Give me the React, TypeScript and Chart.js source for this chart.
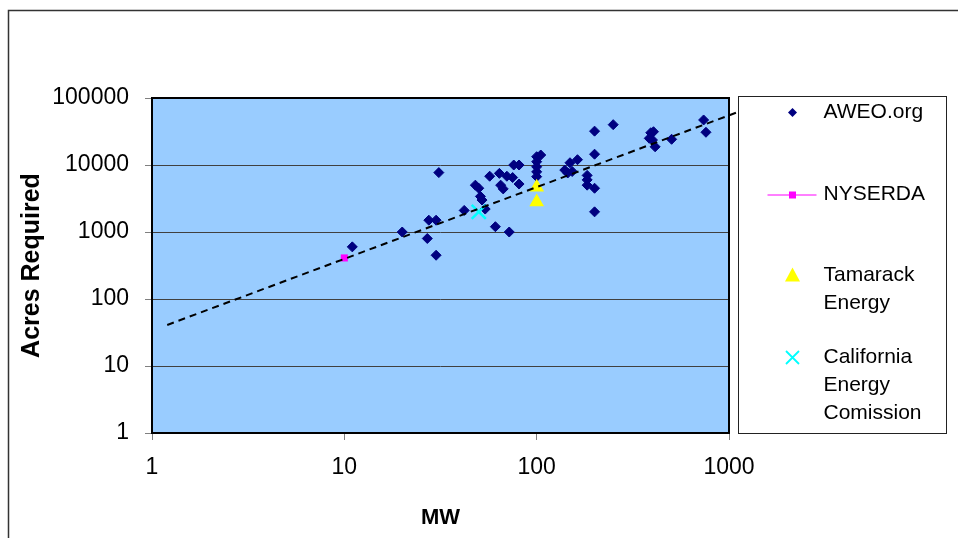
import React, { useEffect, useRef } from 'react';
import { Chart, registerables } from 'chart.js';

Chart.register(...registerables);

// ---- Data ----
const AWEO_MW = [
  11, 20, 27, 27.5, 30, 30, 31, 42, 48, 50, 51, 52, 54, 57, 64, 65, 67, 61, 70, 75, 76, 81, 81, 72,
  100, 100, 100, 100, 100, 105, 200, 250, 200, 200, 200, 183, 183, 183, 140, 149, 153, 163, 145,
  392, 405, 385, 413, 400, 503, 738, 759,
];
const AWEO_ACRES = [
  600, 1000, 800, 1500, 1500, 450, 7700, 2100, 5000, 4500, 3400, 3000, 2200, 6800, 7500, 5000, 4400, 1200, 6800, 6500, 10000, 10000, 5200, 1000,
  13300, 11200, 9400, 7900, 6700, 14100, 32000, 40000, 14500, 4500, 2000, 7000, 6000, 5000, 8400, 10800, 8000, 12000, 7600,
  30300, 31400, 25000, 18700, 23600, 24200, 47000, 30800,
];
const NYSERDA_MW = [10];
const NYSERDA_ACRES = [410];
const TAMARACK_MW = [100, 100];
const TAMARACK_ACRES = [4650, 2800];
const CEC_MW = [50];
const CEC_ACRES = [2000];
const TREND_MW = [1.2, 1300];
const TREND_ACRES = [41, 73000];

const X_TICKS = [1, 10, 100, 1000];
const Y_TICKS = [1, 10, 100, 1000, 10000, 100000];

const LEGEND_ITEMS = [
  { key: 'aweo', lines: ['AWEO.org'] },
  { key: 'nyserda', lines: ['NYSERDA'] },
  { key: 'tamarack', lines: ['Tamarack', 'Energy'] },
  { key: 'cec', lines: ['California', 'Energy', 'Comission'] },
];

const FONT = '"Liberation Sans", Arial, sans-serif';
const NAVY = '#000080';
const MAGENTA = '#FF00FF';
const YELLOW = '#FFFF00';
const CYAN = '#00FFFF';

const pts = (xs: number[], ys: number[]) => xs.map((x, i) => ({ x, y: ys[i] }));

const framePlugin = {
  id: 'frame',
  beforeDraw(chart: any) {
    const { ctx, chartArea: a, width, height } = chart;
    ctx.save();
    ctx.fillStyle = '#ffffff';
    ctx.fillRect(0, 0, width, height);
    ctx.strokeStyle = '#333333';
    ctx.lineWidth = 1.5;
    ctx.strokeRect(8.5, 10.5, width + 50, height + 50);
    ctx.fillStyle = '#99CCFF';
    ctx.fillRect(a.left, a.top, a.right - a.left, a.bottom - a.top);
    ctx.restore();
  },
  afterDraw(chart: any) {
    const { ctx, chartArea: a } = chart;
    ctx.save();
    // plot border
    ctx.strokeStyle = '#000000';
    ctx.lineWidth = 2;
    ctx.strokeRect(a.left, a.top, a.right - a.left, a.bottom - a.top);

    // legend box
    const L = a.right + 9.5;
    const T = a.top - 1.5;
    const W = 208;
    const H = a.bottom - T + 0.5;
    ctx.fillStyle = '#ffffff';
    ctx.fillRect(L, T, W, H);
    ctx.strokeStyle = '#222222';
    ctx.lineWidth = 1;
    ctx.strokeRect(L, T, W, H);

    const offsets = [16, 98, 179, 261];
    const mx = L + 54;
    const tx = L + 85;
    ctx.font = `21px ${FONT}`;
    ctx.textBaseline = 'middle';
    ctx.textAlign = 'left';
    LEGEND_ITEMS.forEach((item, i) => {
      const y = T + offsets[i];
      ctx.save();
      if (item.key === 'aweo') {
        const r = 4.5;
        ctx.fillStyle = NAVY;
        ctx.beginPath();
        ctx.moveTo(mx - r, y);
        ctx.lineTo(mx, y - r);
        ctx.lineTo(mx + r, y);
        ctx.lineTo(mx, y + r);
        ctx.closePath();
        ctx.fill();
      } else if (item.key === 'nyserda') {
        ctx.strokeStyle = MAGENTA;
        ctx.lineWidth = 1;
        ctx.beginPath();
        ctx.moveTo(mx - 25, y + 0.5);
        ctx.lineTo(mx + 24, y + 0.5);
        ctx.stroke();
        ctx.fillStyle = MAGENTA;
        ctx.fillRect(mx - 3.5, y - 3, 7, 7);
      } else if (item.key === 'tamarack') {
        ctx.fillStyle = YELLOW;
        ctx.beginPath();
        ctx.moveTo(mx, y - 8);
        ctx.lineTo(mx + 7.5, y + 6);
        ctx.lineTo(mx - 7.5, y + 6);
        ctx.closePath();
        ctx.fill();
      } else {
        ctx.strokeStyle = CYAN;
        ctx.lineWidth = 1.8;
        ctx.beginPath();
        ctx.moveTo(mx - 6.5, y - 6.5);
        ctx.lineTo(mx + 6.5, y + 6.5);
        ctx.moveTo(mx + 6.5, y - 6.5);
        ctx.lineTo(mx - 6.5, y + 6.5);
        ctx.stroke();
      }
      ctx.restore();
      ctx.fillStyle = '#000000';
      item.lines.forEach((line, j) => {
        ctx.fillText(line, tx, y + j * 28);
      });
    });
    ctx.restore();
  },
};

export default function App() {
  const canvasRef = useRef<HTMLCanvasElement | null>(null);

  useEffect(() => {
    document.body.style.margin = '0';
    const canvas = canvasRef.current;
    if (!canvas) return;
    const chart = new Chart(canvas, {
      type: 'scatter',
      data: {
        datasets: [
          {
            label: 'Trend',
            data: pts(TREND_MW, TREND_ACRES),
            showLine: true,
            borderColor: '#000000',
            borderWidth: 2,
            borderDash: [7, 5],
            pointRadius: 0,
            clip: false as any,
            order: 0,
          } as any,
          {
            label: 'AWEO.org',
            data: pts(AWEO_MW, AWEO_ACRES),
            pointStyle: 'rectRot',
            pointRadius: 5,
            backgroundColor: NAVY,
            borderColor: NAVY,
            borderWidth: 1,
            order: 2,
          },
          {
            label: 'NYSERDA',
            data: pts(NYSERDA_MW, NYSERDA_ACRES),
            pointStyle: 'rect',
            pointRadius: 5,
            backgroundColor: MAGENTA,
            borderColor: MAGENTA,
            borderWidth: 0,
            order: 1,
          },
          {
            label: 'Tamarack Energy',
            data: pts(TAMARACK_MW, TAMARACK_ACRES),
            pointStyle: 'triangle',
            pointRadius: 8.5,
            backgroundColor: YELLOW,
            borderColor: YELLOW,
            borderWidth: 0,
            order: 1,
          },
          {
            label: 'California Energy Comission',
            data: pts(CEC_MW, CEC_ACRES),
            pointStyle: 'crossRot',
            pointRadius: 10,
            backgroundColor: CYAN,
            borderColor: CYAN,
            borderWidth: 2.5,
            order: 1,
          },
        ],
      },
      options: {
        responsive: false,
        animation: false,
        events: [],
        layout: { padding: { left: 0, top: 98, right: 229, bottom: 0 } },
        plugins: {
          legend: { display: false },
          tooltip: { enabled: false },
          title: { display: false },
        },
        scales: {
          x: {
            type: 'logarithmic',
            min: 1,
            max: 1000,
            afterBuildTicks: (s: any) => {
              s.ticks = X_TICKS.map((v) => ({ value: v }));
            },
            afterFit: (s: any) => {
              s.height = 105;
            },
            ticks: {
              autoSkip: false,
              maxRotation: 0,
              padding: 14,
              color: '#000000',
              font: { family: FONT, size: 23 },
              callback: (v: any) => String(v),
            },
            grid: {
              drawOnChartArea: false,
              drawTicks: true,
              tickLength: 7,
              tickColor: '#808080',
            },
            border: { display: false },
            title: {
              display: true,
              text: 'MW',
              color: '#000000',
              font: { family: FONT, size: 22, weight: 'bold' },
              padding: { top: 0, bottom: 7 },
            },
          },
          y: {
            type: 'logarithmic',
            min: 1,
            max: 100000,
            afterBuildTicks: (s: any) => {
              s.ticks = Y_TICKS.map((v) => ({ value: v }));
            },
            afterFit: (s: any) => {
              s.width = 152;
            },
            ticks: {
              autoSkip: false,
              padding: 16,
              color: '#000000',
              font: { family: FONT, size: 23 },
              callback: (v: any) => String(v),
            },
            grid: {
              drawOnChartArea: true,
              drawTicks: true,
              tickLength: 7,
              color: '#404040',
              tickColor: '#808080',
              lineWidth: 1,
            },
            border: { display: false },
            title: {
              display: true,
              text: 'Acres Required',
              color: '#000000',
              font: { family: FONT, size: 25, weight: 'bold' },
              padding: { top: 17, bottom: 0 },
            },
          },
        },
      },
      plugins: [framePlugin],
    });
    return () => chart.destroy();
  }, []);

  return (
    <div style={{ width: 958, height: 538 }}>
      <canvas ref={canvasRef} width={958} height={538} style={{ display: 'block' }} />
    </div>
  );
}
